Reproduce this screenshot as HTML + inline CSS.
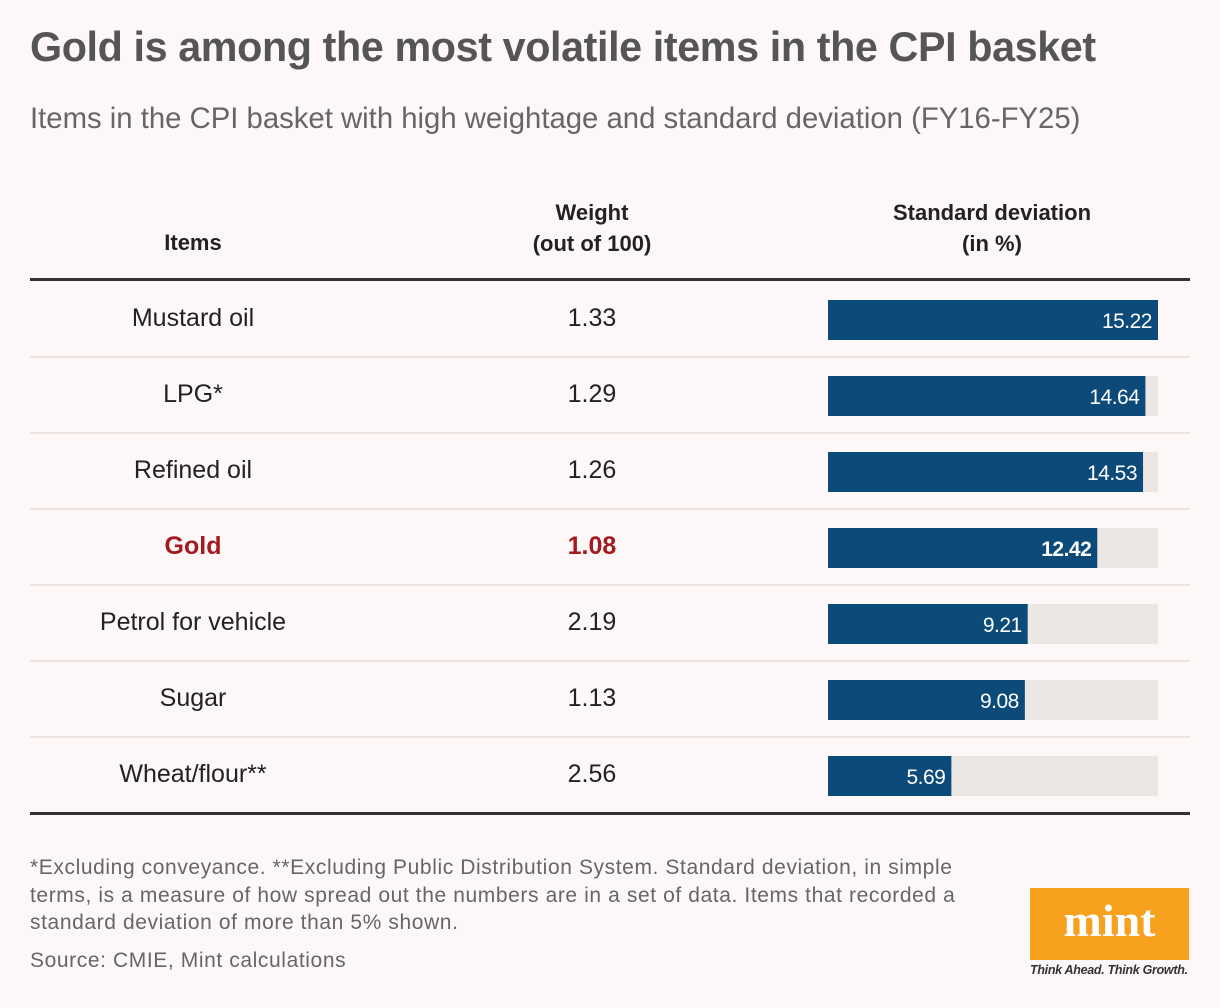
<!DOCTYPE html>
<html><head><meta charset="utf-8"><style>
body{margin:0;background:#fdf8f7;font-family:"Liberation Sans",sans-serif;}
#root{position:relative;width:1220px;height:1008px;overflow:hidden;background:#fdf8f7;}
.a{position:absolute;}
</style></head><body>
<div id="root">
<div class="a" style="left:30px;top:24px;font-size:41.3px;font-weight:bold;color:#555;letter-spacing:-0.4px">Gold is among the most volatile items in the CPI basket</div>
<div class="a" style="left:30px;top:102px;font-size:29.3px;color:#666">Items in the CPI basket with high weightage and standard deviation (FY16-FY25)</div>
<div class="a" style="left:93px;width:200px;top:230px;text-align:center;font-size:22px;font-weight:bold;color:#222">Items</div>
<div class="a" style="left:492px;width:200px;top:197px;text-align:center;font-size:22px;font-weight:bold;color:#222;line-height:31px">Weight<br>(out of 100)</div>
<div class="a" style="left:842px;width:300px;top:197px;text-align:center;font-size:22px;font-weight:bold;color:#222;line-height:31px">Standard deviation<br>(in %)</div>
<div class="a" style="left:30px;width:1160px;top:278px;height:3px;background:#333"></div>
<div class="a" style="left:30px;width:1160px;top:812px;height:3px;background:#333"></div>
<svg id="svg" class="a" style="left:0;top:0" width="1220" height="1008"></svg>
<div class="a" style="left:30px;top:854px;white-space:nowrap;font-size:21px;letter-spacing:0.6px;color:#666;line-height:27.5px">*Excluding conveyance. **Excluding Public Distribution System. Standard deviation, in simple<br>terms, is a measure of how spread out the numbers are in a set of data. Items that recorded a<br>standard deviation of more than 5% shown.</div>
<div class="a" style="left:30px;top:949px;font-size:21px;letter-spacing:0.6px;color:#666">Source: CMIE, Mint calculations</div>
<div class="a" style="left:1030px;top:888px;width:159px;height:72px;background:#f7a11f;color:#fff;font-family:'Liberation Serif',serif;font-weight:bold;font-size:46px;text-align:center;line-height:66px">mint</div>
<div class="a" style="left:1030px;top:963px;font-size:12.5px;font-style:italic;font-weight:bold;color:#333;letter-spacing:-0.3px">Think Ahead. Think Growth.</div>
</div>
<script>
const items=["Mustard oil","LPG*","Refined oil","Gold","Petrol for vehicle","Sugar","Wheat/flour**"];
const weights=["1.33","1.29","1.26","1.08","2.19","1.13","2.56"];
const stddev=[15.22,14.64,14.53,12.42,9.21,9.08,5.69];
const highlight="Gold";
const svg=document.getElementById('svg');
const NS="http://www.w3.org/2000/svg";
const x0=828,W=330,maxV=15.22;
const xs=v=>v/maxV*W;
const rowY=i=>281+i*76;
function mk(t,a){const e=document.createElementNS(NS,t);for(const k in a)e.setAttribute(k,a[k]);svg.appendChild(e);return e;}
items.forEach((it,i)=>{
  const y=rowY(i);const hl=it===highlight;
  if(i>0){const l=mk('rect',{x:30,y:y-1,width:1160,height:2,fill:'#ebe4e2'});
    
    }
  const c=hl?'#a31a1f':'#222',fw=hl?'bold':'normal';
  const t1=mk('text',{x:193,y:y+45,'text-anchor':'middle','font-size':25,fill:c,'font-weight':fw});t1.textContent=it;
  
  
  const t2=mk('text',{x:592,y:y+45,'text-anchor':'middle','font-size':25,fill:c,'font-weight':fw});t2.textContent=weights[i];
  
  
  const bg=mk('rect',{x:x0,y:y+19,width:W,height:40,fill:'#ece6e5'});
  
  
  const b=mk('rect',{x:x0,y:y+19,width:xs(stddev[i]),height:40,fill:'#0c4a7a'});
  
  
  const t3=mk('text',{x:x0+xs(stddev[i])-6,y:y+47,'text-anchor':'end','font-size':21,fill:'#fff','font-weight':fw,'letter-spacing':'-0.5'});t3.textContent=stddev[i].toFixed(2);
  
  
});
</script>
</body></html>
